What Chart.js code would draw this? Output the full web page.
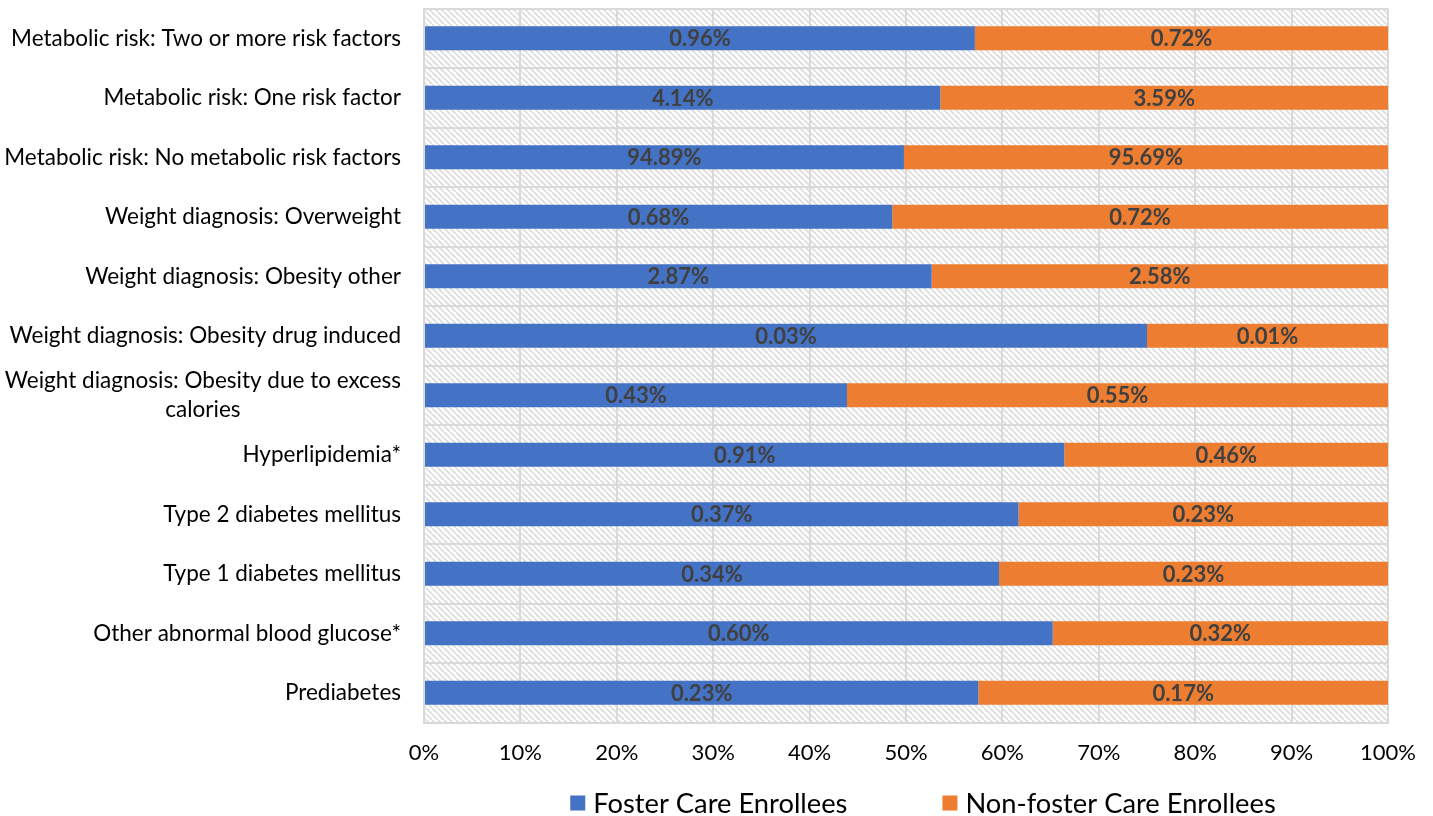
<!DOCTYPE html>
<html>
<head>
<meta charset="utf-8">
<script src="https://cdn.jsdelivr.net/npm/chart.js@4.4.1/dist/chart.umd.min.js"></script>
<style>
  html, body { margin: 0; padding: 0; background: #ffffff; }
  #wrap { width: 1433px; height: 816px; }
</style>
</head>
<body>
<div id="wrap"><canvas id="chart" width="1433" height="816"></canvas></div>
<script>
// Categories, top to bottom
const categories = [
  'Metabolic risk: Two or more risk factors',
  'Metabolic risk: One risk factor',
  'Metabolic risk: No metabolic risk factors',
  'Weight diagnosis: Overweight',
  'Weight diagnosis: Obesity other',
  'Weight diagnosis: Obesity drug induced',
  ['Weight diagnosis: Obesity due to excess', 'calories'],
  'Hyperlipidemia*',
  'Type 2 diabetes mellitus',
  'Type 1 diabetes mellitus',
  'Other abnormal blood glucose*',
  'Prediabetes'
];

// Prevalence (%) in each group
const fosterCare = [0.96, 4.14, 94.89, 0.68, 2.87, 0.03, 0.43, 0.91, 0.37, 0.34, 0.60, 0.23];
const nonFosterCare = [0.72, 3.59, 95.69, 0.72, 2.58, 0.01, 0.55, 0.46, 0.23, 0.23, 0.32, 0.17];

const seriesNames = ['Foster Care Enrollees', 'Non-foster Care Enrollees'];
const seriesColors = ['#4472C4', '#ED7D31'];

const xTickValues = [0, 10, 20, 30, 40, 50, 60, 70, 80, 90, 100];

// 100% stacked: each bar shows the group's share of the combined prevalence
const share = (a, b) => a.map((v, i) => v / (v + b[i]) * 100);
const fosterShare = share(fosterCare, nonFosterCare);
const nonFosterShare = share(nonFosterCare, fosterCare);
const rawValues = [fosterCare, nonFosterCare];

const FONT = 'Lato, "Open Sans", sans-serif';
const GRID = '#d9d9d9';

// Light diagonal hatch behind the plot area
function hatchPattern(ctx) {
  const p = 6;
  const tile = document.createElement('canvas');
  tile.width = p; tile.height = p;
  const t = tile.getContext('2d');
  t.fillStyle = '#ffffff';
  t.fillRect(0, 0, p, p);
  t.strokeStyle = '#e0e0e0';
  t.lineWidth = 2;
  for (const x0 of [-p, 0, p]) {
    t.beginPath();
    t.moveTo(x0, 0);
    t.lineTo(x0 + p, p);
    t.stroke();
  }
  return ctx.createPattern(tile, 'repeat');
}

const plotBackground = {
  id: 'plotBackground',
  beforeDraw(chart) {
    const { ctx, chartArea: a } = chart;
    ctx.save();
    ctx.fillStyle = hatchPattern(ctx);
    ctx.fillRect(a.left, a.top, a.right - a.left, a.bottom - a.top);
    ctx.restore();
  }
};

// Category labels: right-aligned block, wrapped lines centred within the block
const categoryLabels = {
  id: 'categoryLabels',
  afterDraw(chart) {
    const { ctx, chartArea: a } = chart;
    const y = chart.scales.y;
    const right = a.left - 23;
    const lineH = 29;
    ctx.save();
    ctx.font = '22.5px ' + FONT;
    ctx.fillStyle = '#000000';
    ctx.textBaseline = 'middle';
    categories.forEach((lab, i) => {
      const lines = Array.isArray(lab) ? lab : [lab];
      const yc = y.getPixelForTick(i);
      const w = Math.max(...lines.map(l => ctx.measureText(l).width));
      const cx = right - w / 2;
      ctx.textAlign = 'center';
      lines.forEach((l, k) => {
        ctx.fillText(l, cx, yc + (k - (lines.length - 1) / 2) * lineH);
      });
    });
    ctx.restore();
  }
};

// Value labels centred in each segment
const valueLabels = {
  id: 'valueLabels',
  afterDatasetsDraw(chart) {
    const { ctx } = chart;
    ctx.save();
    ctx.font = 'bold 22px ' + FONT;
    ctx.fillStyle = '#404040';
    ctx.textAlign = 'center';
    ctx.textBaseline = 'middle';
    chart.data.datasets.forEach((ds, di) => {
      chart.getDatasetMeta(di).data.forEach((bar, i) => {
        const cx = (bar.x + bar.base) / 2;
        ctx.fillText(rawValues[di][i].toFixed(2) + '%', cx, bar.y + 1);
      });
    });
    ctx.restore();
  }
};

// Legend below the axis
const bottomLegend = {
  id: 'bottomLegend',
  afterDraw(chart) {
    const { ctx, chartArea: a } = chart;
    const box = 15, gap = 8, itemGap = 95;
    ctx.save();
    ctx.font = '27.3px ' + FONT;
    ctx.textBaseline = 'middle';
    ctx.textAlign = 'left';
    const widths = seriesNames.map(n => ctx.measureText(n).width);
    const total = widths.reduce((s, w) => s + box + gap + w, 0) + itemGap * (seriesNames.length - 1);
    let x = (a.left + a.right) / 2 + 17 - total / 2;
    const yc = 803;
    seriesNames.forEach((n, i) => {
      ctx.fillStyle = seriesColors[i];
      ctx.fillRect(x, yc - box / 2, box, box);
      ctx.fillStyle = '#000000';
      ctx.fillText(n, x + box + gap, yc + 1);
      x += box + gap + widths[i] + itemGap;
    });
    ctx.restore();
  }
};

new Chart(document.getElementById('chart'), {
  type: 'bar',
  data: {
    labels: categories,
    datasets: [
      { label: seriesNames[0], data: fosterShare, backgroundColor: seriesColors[0] },
      { label: seriesNames[1], data: nonFosterShare, backgroundColor: seriesColors[1] }
    ]
  },
  options: {
    indexAxis: 'y',
    responsive: false,
    animation: false,
    devicePixelRatio: 1,
    layout: { padding: { top: 8.5, right: 45, bottom: 43.5, left: 0 } },
    datasets: { bar: { categoryPercentage: 1, barPercentage: 0.4 } },
    plugins: { legend: { display: false }, tooltip: { enabled: false } },
    scales: {
      x: {
        stacked: true,
        min: 0,
        max: 100,
        afterBuildTicks(scale) { scale.ticks = xTickValues.map(v => ({ value: v })); },
        afterFit(scale) { scale.height = 50; },
        grid: { color: GRID, lineWidth: 2, drawTicks: false },
        border: { color: GRID, width: 2 },
        ticks: {
          padding: 17,
          color: '#000000',
          font: { family: FONT, size: 22 },
          callback: v => v + '%'
        }
      },
      y: {
        stacked: true,
        afterFit(scale) { scale.width = 424; },
        grid: { color: GRID, lineWidth: 2, drawTicks: false, offset: true },
        border: { color: GRID, width: 2 },
        ticks: { display: false }
      }
    }
  },
  plugins: [plotBackground, categoryLabels, valueLabels, bottomLegend]
});
</script>
</body>
</html>
